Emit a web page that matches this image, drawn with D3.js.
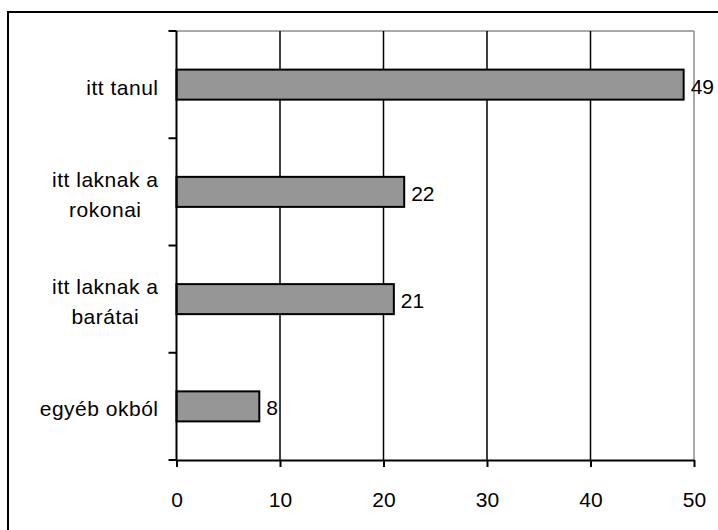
<!DOCTYPE html>
<html>
<head>
<meta charset="utf-8">
<script src="https://cdn.jsdelivr.net/npm/d3@7"></script>
<style>
  html, body { margin: 0; padding: 0; background: #fff; }
  svg { display: block; }
  text { font-family: "Liberation Sans", Arial, sans-serif; fill: #000; }
</style>
</head>
<body>
<svg id="chart" width="718" height="530"></svg>
<script>
const categories = [["itt tanul"], ["itt laknak a", "rokonai"], ["itt laknak a", "barátai"], ["egyéb okból"]];
const values = [49, 22, 21, 8];
const xTicks = [0, 10, 20, 30, 40, 50];

const svg = d3.select("#chart");
const W = 718, H = 530;
const plot = { left: 176.5, right: 694, top: 31, bottom: 460 };

// outer border (right and bottom edges fall outside the picture)
svg.append("rect").attr("x", 8).attr("y", 12).attr("width", 730).attr("height", 540)
  .attr("fill", "none").attr("stroke", "#000").attr("stroke-width", 2);

const x = d3.scaleLinear().domain([0, 50]).range([plot.left, plot.right]);
const keys = categories.map((c, i) => i);
const y = d3.scaleBand().domain(keys).range([plot.top, plot.bottom]).paddingInner(0.72).paddingOuter(0.36);

// plot frame top & right (gray)
svg.append("line").attr("x1", plot.left).attr("x2", plot.right).attr("y1", plot.top).attr("y2", plot.top)
  .attr("stroke", "#8c8c8c").attr("stroke-width", 1.5);
svg.append("line").attr("x1", plot.right).attr("x2", plot.right).attr("y1", plot.top).attr("y2", plot.bottom)
  .attr("stroke", "#8c8c8c").attr("stroke-width", 1.5);

// vertical gridlines
svg.append("g").selectAll("line").data(xTicks.filter(t => t > 0 && t < 50)).join("line")
  .attr("x1", d => x(d)).attr("x2", d => x(d)).attr("y1", plot.top).attr("y2", plot.bottom)
  .attr("stroke", "#000").attr("stroke-width", 1.5);

// bars
svg.append("g").selectAll("rect").data(values).join("rect")
  .attr("x", x(0)).attr("y", (d, i) => y(i))
  .attr("width", d => x(d) - x(0)).attr("height", y.bandwidth())
  .attr("fill", "#969696").attr("stroke", "#000").attr("stroke-width", 2);

// value labels
svg.append("g").selectAll("text").data(values).join("text")
  .attr("x", d => x(d) + 7).attr("y", (d, i) => y(i) + y.bandwidth() / 2 + 9)
  .attr("font-size", 21).text(d => d);

// x axis
const xAxis = d3.axisBottom(x).tickValues(xTicks).tickSize(7).tickPadding(25).tickSizeOuter(0);
const gx = svg.append("g").attr("transform", `translate(0,${plot.bottom})`).call(xAxis);
gx.select(".domain").attr("stroke", "#000").attr("stroke-width", 2);
gx.selectAll(".tick line").attr("stroke", "#000").attr("stroke-width", 2);
gx.selectAll(".tick text").attr("font-size", 21).attr("font-family", "Liberation Sans, Arial, sans-serif").attr("fill", "#000");

// y axis line + category boundary ticks
svg.append("line").attr("x1", plot.left).attr("x2", plot.left).attr("y1", plot.top).attr("y2", plot.bottom)
  .attr("stroke", "#000").attr("stroke-width", 2);
const boundaries = keys.map(i => y(i) - y.step() * y.paddingInner() / 2 * 1).concat([plot.bottom]);
svg.append("g").selectAll("line").data(boundaries).join("line")
  .attr("x1", plot.left - 8).attr("x2", plot.left).attr("y1", d => d).attr("y2", d => d)
  .attr("stroke", "#000").attr("stroke-width", 2);

// category labels
const labelRight = 158.5;
categories.forEach((lines, i) => {
  const cy = y(i) + y.bandwidth() / 2;
  const g = svg.append("g");
  const ts = lines.map((ln, j) => g.append("text").attr("font-size", 21).attr("letter-spacing", 0.5).text(ln));
  const maxW = d3.max(ts, t => t.node().getComputedTextLength());
  const cx = labelRight - maxW / 2;
  ts.forEach((t, j) => {
    let by;
    if (lines.length === 1) by = cy + 10;
    else by = cy - 5 + j * 30;
    t.attr("x", cx).attr("y", by).attr("text-anchor", "middle");
  });
});
</script>
</body>
</html>
